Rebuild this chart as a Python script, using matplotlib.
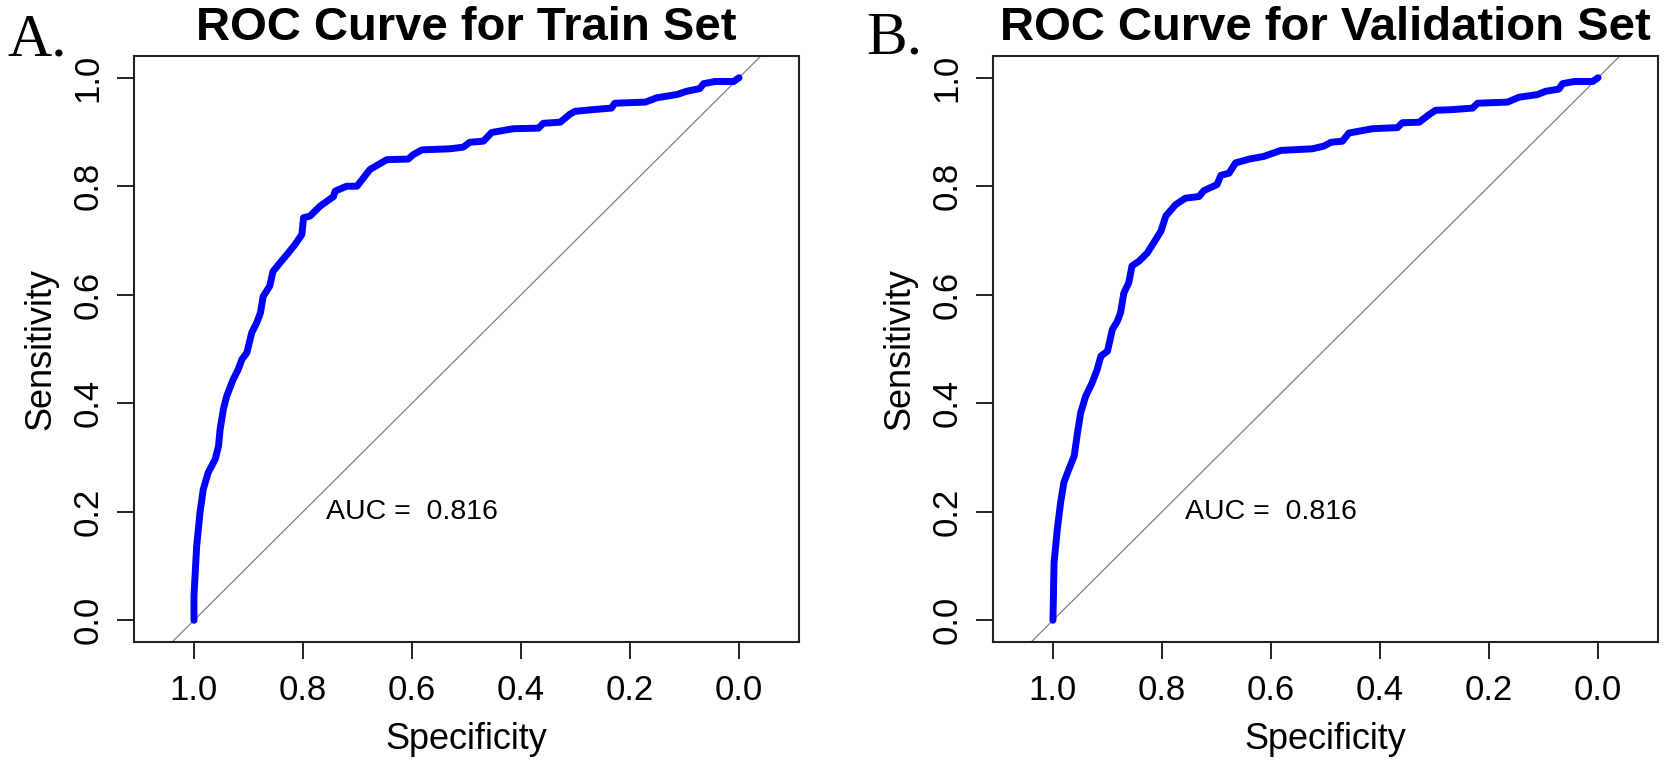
import matplotlib
matplotlib.use('Agg')
import matplotlib.pyplot as plt

# ==================== data ====================
TITLES = ['ROC Curve for Train Set', 'ROC Curve for Validation Set']
PANEL_TAGS = ['A.', 'B.']
AUC_TEXT = 'AUC =  0.816'

train_spec = [1.000, 1.000, 0.995, 0.989, 0.983, 0.974, 0.961, 0.955, 0.952, 0.946,
              0.940, 0.928, 0.919, 0.912, 0.903, 0.894, 0.885, 0.878, 0.873, 0.861,
              0.855, 0.842, 0.827, 0.815, 0.802, 0.799, 0.787, 0.769, 0.744, 0.741,
              0.720, 0.701, 0.677, 0.646, 0.607, 0.598, 0.582, 0.530, 0.506, 0.494,
              0.469, 0.454, 0.414, 0.368, 0.359, 0.328, 0.310, 0.301, 0.270, 0.234,
              0.228, 0.172, 0.151, 0.114, 0.096, 0.072, 0.065, 0.044, 0.010, 0.000]
train_sens = [0.000, 0.045, 0.137, 0.198, 0.241, 0.272, 0.297, 0.321, 0.352, 0.389,
              0.413, 0.444, 0.462, 0.481, 0.493, 0.530, 0.548, 0.567, 0.597, 0.616,
              0.643, 0.659, 0.677, 0.692, 0.711, 0.742, 0.745, 0.763, 0.781, 0.791,
              0.800, 0.800, 0.831, 0.849, 0.850, 0.858, 0.867, 0.869, 0.872, 0.881,
              0.883, 0.899, 0.906, 0.907, 0.916, 0.918, 0.933, 0.938, 0.941, 0.944,
              0.953, 0.955, 0.963, 0.969, 0.975, 0.980, 0.989, 0.993, 0.993, 1.000]

valid_spec = [1.000, 0.998, 0.992, 0.986, 0.980, 0.971, 0.961, 0.955, 0.949, 0.940,
              0.928, 0.919, 0.912, 0.900, 0.891, 0.882, 0.876, 0.870, 0.861, 0.855,
              0.842, 0.827, 0.815, 0.802, 0.793, 0.775, 0.757, 0.732, 0.723, 0.699,
              0.692, 0.677, 0.665, 0.640, 0.613, 0.582, 0.524, 0.503, 0.490, 0.469,
              0.457, 0.414, 0.368, 0.359, 0.328, 0.310, 0.298, 0.270, 0.230, 0.221,
              0.166, 0.145, 0.111, 0.096, 0.072, 0.065, 0.044, 0.010, 0.000]
valid_sens = [0.000, 0.106, 0.168, 0.217, 0.254, 0.278, 0.303, 0.346, 0.383, 0.413,
              0.438, 0.462, 0.487, 0.496, 0.536, 0.551, 0.567, 0.603, 0.622, 0.653,
              0.662, 0.677, 0.696, 0.717, 0.745, 0.766, 0.778, 0.781, 0.792, 0.803,
              0.820, 0.824, 0.843, 0.850, 0.855, 0.866, 0.869, 0.874, 0.881, 0.883,
              0.898, 0.906, 0.908, 0.917, 0.918, 0.932, 0.940, 0.941, 0.944, 0.953,
              0.955, 0.964, 0.969, 0.975, 0.979, 0.989, 0.993, 0.993, 1.000]

TICKS = [1.0, 0.8, 0.6, 0.4, 0.2, 0.0]
TICK_LABELS = ['1.0', '0.8', '0.6', '0.4', '0.2', '0.0']
# ==============================================

plt.rcParams['font.family'] = ['Liberation Sans', 'DejaVu Sans']

W, H = 1666, 760
fig = plt.figure(figsize=(W / 100, H / 100), dpi=100)

AX_W = 665 / W
AX_H = 586 / H
AX_B = (H - 642) / H
lefts = [134 / W, 993 / W]
tag_pos = [(7, 55), (866, 53)]
curves = [(train_spec, train_sens), (valid_spec, valid_sens)]
edge = '#222222'


def draw_panel(ax, spec, sens, title):
    ax.axline((1, 0), (0, 1), color='#7f7f7f', lw=0.9, zorder=1)
    ax.plot(spec, sens, color='#0000ff', lw=5, solid_capstyle='round',
            solid_joinstyle='round', zorder=3)
    ax.set_xlim(1.11, -0.11)
    ax.set_ylim(-0.04, 1.04)

    ax.set_xticks(TICKS)
    ax.set_xticklabels(TICK_LABELS)
    ax.set_yticks(TICKS)
    ax.set_yticklabels(TICK_LABELS)
    ax.tick_params(axis='both', length=12, width=1.4, color=edge,
                   labelsize=25, labelcolor='black')
    ax.tick_params(axis='x', pad=11)
    ax.tick_params(axis='y', pad=9)
    plt.setp(ax.get_yticklabels(), rotation=90, va='center')

    for sp in ax.spines.values():
        sp.set_linewidth(1.5)
        sp.set_color(edge)

    ax.set_xlabel('Specificity', fontsize=26)
    ax.set_ylabel('Sensitivity', fontsize=26)
    ax.xaxis.set_label_coords(0.5, -0.136)
    ax.yaxis.set_label_coords(-0.113, 0.5)

    ax.set_title(title, fontsize=34, fontweight='bold', pad=11.5)
    ax.text(0.6, 0.2, AUC_TEXT, fontsize=20.5, ha='center', va='center')


for i in range(2):
    ax = fig.add_axes([lefts[i], AX_B, AX_W, AX_H])
    draw_panel(ax, curves[i][0], curves[i][1], TITLES[i])
    tx, ty = tag_pos[i]
    fig.text(tx / W, 1 - ty / H, PANEL_TAGS[i], fontsize=44,
             family=['Liberation Serif', 'DejaVu Serif'], ha='left', va='baseline')

fig.savefig('out.png', dpi=100)
